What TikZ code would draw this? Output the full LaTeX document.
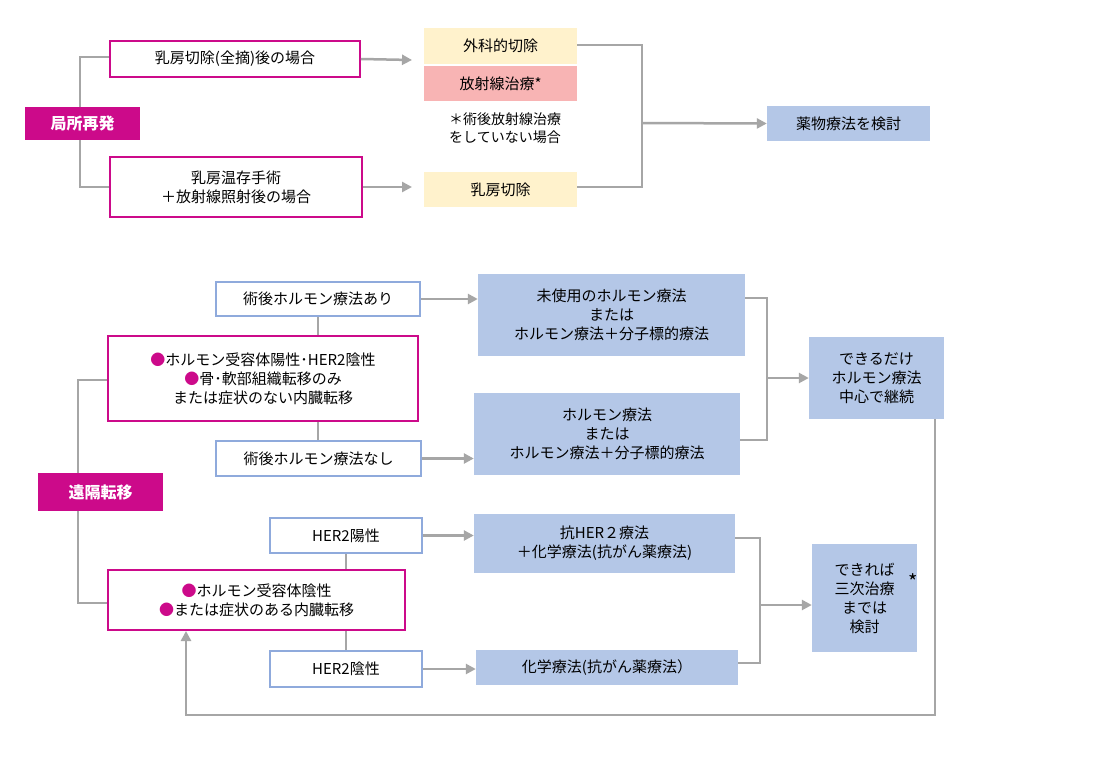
\documentclass[tikz,border=0pt]{standalone}
\usepackage{fontspec}
\setmainfont{Noto Sans CJK JP}
\usetikzlibrary{arrows.meta}
\definecolor{mag}{HTML}{CC0A8A}
\definecolor{gl}{HTML}{A6A6A6}
\definecolor{bf}{HTML}{B4C7E7}
\definecolor{bb}{HTML}{8FAADC}
\definecolor{yf}{HTML}{FFF2CC}
\definecolor{pf}{HTML}{F8B4B4}
\begin{document}
\begin{tikzpicture}[x=1pt,y=-1pt,
  every node/.style={font=\fontsize{15}{19}\selectfont, align=center, inner sep=0pt},
  hd/.style={fill=mag, text=white, font=\fontsize{16}{19}\selectfont\bfseries},
  mb/.style={draw=mag, line width=1.8pt, fill=white},
  ob/.style={draw=bb, line width=1.5pt, fill=white},
  fb/.style={fill=bf},
  ln/.style={draw=gl, line width=2.5pt},
  ar/.style={ln, -{Triangle[length=10pt,width=10pt]}}]
\useasboundingbox (0,0) rectangle (1106,758);
\fill[white] (0,0) rectangle (1106,758);
\def\bx#1#2#3#4#5#6#7{\node[#1, minimum width=#4-#3, minimum height=#6-#5] (#2) at ({(#3+#4)/2},{(#5+#6)/2}) {#7};}
% top connectors
\coordinate (tl1) at (80,57); \coordinate (tl2) at (80,187);
\draw[ln] (110,57) -- (tl1) -- (tl2) -- (110,187);
\bx{mb}{a1}{110}{360}{41}{77}{乳房切除(全摘)後の場合}
\bx{mb}{a2}{110}{362}{157}{217}{乳房温存手術\\＋放射線照射後の場合}
\bx{hd}{lr}{25}{140}{107}{140}{局所再発}
\bx{fill=yf}{b1}{424}{577}{28}{64}{外科的切除}
\bx{fill=pf}{b2}{424}{577}{66}{101}{放射線治療*}
\node[font=\fontsize{14}{18}\selectfont] (nt) at (505,128) {＊術後放射線治療\\をしていない場合};
\bx{fill=yf}{b3}{424}{577}{172}{207}{乳房切除}
\bx{fb}{c1}{767}{930}{106}{141}{薬物療法を検討}
\draw[ar] (a1.east) -- (412,60);
\draw[ar] (a2.east) -- (412,187);
\coordinate (tr1) at (642,45); \coordinate (tr2) at (642,187); \coordinate (tr3) at (642,123);
\draw[ln] (577,45) -- (tr1) -- (tr2) -- (577,187);
\draw[ar] (tr3) -- (c1.west);
% bottom
\coordinate (bl1) at (78,380); \coordinate (bl2) at (78,603);
\draw[ln] (108,380) -- (bl1) -- (bl2) -- (108,603);
\draw[gl, line width=2pt] (318,316) -- (318,441);
\draw[gl, line width=2pt] (346,553) -- (346,651);
\bx{hd}{dm}{38}{163}{473}{511}{遠隔転移}
\bx{ob}{p1}{216}{420}{282}{316}{術後ホルモン療法あり}
\bx{mb}{q1}{108}{418}{336}{421}{{\color{mag}●}ホルモン受容体陽性･HER2陰性\\{\color{mag}●}骨･軟部組織転移のみ\\または症状のない内臓転移}
\bx{ob}{p2}{216}{421}{441}{476}{術後ホルモン療法なし}
\bx{fb}{r1}{478}{745}{274}{356}{未使用のホルモン療法\\または\\ホルモン療法＋分子標的療法}
\bx{fb}{r2}{474}{740}{393}{475}{ホルモン療法\\または\\ホルモン療法＋分子標的療法}
\bx{fb}{s1}{809}{944}{337}{419}{できるだけ\\ホルモン療法\\中心で継続}
\draw[ar] (p1.east) -- (r1.west|-p1.east);
\draw[ar] (p2.east) -- (r2.west|-p2.east);
\coordinate (br1) at (767,298); \coordinate (br2) at (767,440); \coordinate (br3) at (767,378);
\draw[ln] (745,298) -- (br1) -- (br2) -- (740,440);
\draw[ar] (br3) -- (s1.west|-br3);
\bx{ob}{h1}{270}{422}{518}{553}{HER2陽性}
\bx{mb}{q2}{108}{405}{570}{630}{{\color{mag}●}ホルモン受容体陰性\\{\color{mag}●}または症状のある内臓転移}
\bx{ob}{h2}{270}{422}{651}{687}{HER2陰性}
\bx{fb}{t1}{474}{735}{514}{573}{抗HER２療法\\＋化学療法(抗がん薬療法)}
\bx{fb}{t2}{476}{738}{650}{685}{化学療法(抗がん薬療法）}
\bx{fb}{s2}{812}{917}{544}{652}{できれば\\三次治療\\までは\\検討}
\node[font=\fontsize{20}{20}\selectfont] (ast) at (913,582) {*};
\draw[ar] (h1.east) -- (t1.west|-h1.east);
\draw[ar] (h2.east) -- (t2.west|-h2.east);
\coordinate (cr1) at (760,538); \coordinate (cr2) at (760,663); \coordinate (cr3) at (760,605);
\draw[ln] (735,538) -- (cr1) -- (cr2) -- (738,663);
\draw[ar] (cr3) -- (s2.west|-cr3);
\coordinate (fb1) at (935,715); \coordinate (fb2) at (186,715); \coordinate (fb3) at (186,631);
\draw[ar] (935,419) -- (fb1) -- (fb2) -- (fb3);
\end{tikzpicture}
\end{document}
